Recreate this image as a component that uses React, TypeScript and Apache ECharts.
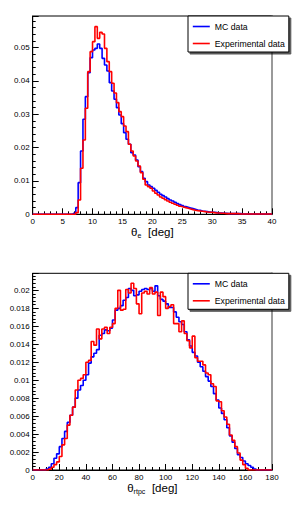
import React, { useEffect, useRef } from "react";
import * as echarts from "echarts";

// ---- top histogram: theta_e, 100 bins of 0.4 deg over [0, 40] ----
const thetaEBinWidth = 0.4;
const thetaEMC = [
  0, 0, 0, 0, 0, 0, 0, 0, 0, 0, 0, 0, 0, 0, 0, 0, 0,
  0.0003, 0.002, 0.0095, 0.019, 0.0285, 0.0353, 0.0425, 0.047, 0.0493, 0.0498,
  0.0511, 0.0498, 0.0468, 0.0448, 0.043, 0.0395, 0.037, 0.0345, 0.032, 0.0298,
  0.0272, 0.0245, 0.0225, 0.021, 0.0185, 0.0178, 0.0163, 0.0143, 0.0128, 0.0108,
  0.0098, 0.0088, 0.0083, 0.0078, 0.0072, 0.0066, 0.006, 0.0056, 0.0052, 0.0047,
  0.0043, 0.004, 0.0036, 0.0032, 0.0029, 0.0026, 0.0023, 0.0021, 0.0019, 0.0017,
  0.0015, 0.0013, 0.0012, 0.001, 0.0009, 0.0008, 0.0007, 0.0006, 0.0006, 0.0005,
  0.0004, 0.0004, 0.0003, 0.0003,
  0.0002, 0.0002, 0.0002, 0.0002, 0.0002, 0.0002,
  0.0001, 0.0001, 0.0001, 0.0001, 0.0001, 0.0001, 0.0001, 0.0001, 0.0001, 0.0001,
  0.0001, 0.0001, 0.0001,
];
const thetaEExp = [
  0, 0, 0, 0, 0, 0, 0, 0, 0, 0, 0, 0, 0, 0, 0, 0, 0, 0,
  0.0005, 0.0043, 0.0138, 0.0223, 0.0318, 0.0428, 0.0488, 0.0518, 0.0563, 0.0528,
  0.0546, 0.0541, 0.0498, 0.0458, 0.0428, 0.0393, 0.0364, 0.0335, 0.0308, 0.0293,
  0.0265, 0.0248, 0.021, 0.019, 0.0175, 0.016, 0.0145, 0.0125, 0.0105, 0.0088,
  0.0083, 0.0078, 0.007, 0.0063, 0.0058, 0.0052, 0.0048, 0.0044, 0.004, 0.0036,
  0.0033, 0.003, 0.0027, 0.0024, 0.0022, 0.002, 0.0018, 0.0016, 0.0014, 0.0012,
  0.0011, 0.001, 0.0009, 0.0008, 0.0007, 0.0006, 0.0006, 0.0005, 0.0004, 0.0004,
  0.0003, 0.0003,
  0.0002, 0.0002, 0.0002, 0.0002, 0.0002, 0.0002,
  0.0001, 0.0001, 0.0001, 0.0001, 0.0001, 0.0001, 0.0001, 0.0001, 0.0001, 0.0001,
  0.0001, 0.0001, 0.0001, 0.0001,
];

// ---- bottom histogram: theta_rtpc, 90 bins of 2 deg over [0, 180] ----
const thetaRBinWidth = 2;
const thetaRMC = [
  0, 0, 0, 0, 0,
  0.0001, 0.0003, 0.0007, 0.0013, 0.0018, 0.0026, 0.0035, 0.0043, 0.0053, 0.0061,
  0.007, 0.008, 0.0089, 0.0094, 0.01, 0.0106, 0.0119, 0.0126, 0.013, 0.0134,
  0.015, 0.0152, 0.0156, 0.0155, 0.0158, 0.0167, 0.0178, 0.018, 0.0183, 0.0189,
  0.0192, 0.0202, 0.02, 0.0194, 0.0195, 0.0199, 0.0201, 0.0202, 0.0201, 0.0202,
  0.0199, 0.0205, 0.0194, 0.019, 0.0188, 0.0185, 0.0181, 0.0181, 0.0176, 0.017,
  0.0165, 0.0162, 0.0154, 0.0145, 0.0138, 0.0131, 0.0127, 0.012, 0.0115, 0.011,
  0.0104, 0.0099, 0.0093, 0.0085, 0.0078, 0.0069, 0.0063, 0.0056, 0.0047, 0.0038,
  0.0031, 0.0024, 0.0017, 0.0014, 0.001, 0.0007, 0.0005, 0.0003, 0.0001,
  0, 0, 0, 0, 0, 0,
];
const thetaRExp = [
  0, 0, 0, 0, 0, 0,
  0.0001, 0.0003, 0.0006, 0.0009, 0.0015, 0.0028, 0.0035, 0.005, 0.0061,
  0.007, 0.0089, 0.01, 0.0102, 0.0106, 0.012, 0.0122, 0.0143, 0.0139, 0.0157,
  0.0146, 0.0157, 0.0159, 0.0152, 0.0159, 0.0163, 0.018, 0.02, 0.0178, 0.0179,
  0.0201, 0.0197, 0.0208, 0.0202, 0.0185, 0.0174, 0.0197, 0.0199, 0.0196, 0.0203,
  0.0196, 0.0198, 0.0172, 0.0198, 0.0193, 0.018, 0.0182, 0.0184, 0.0163, 0.0163,
  0.0154, 0.0166, 0.0152, 0.0144, 0.0136, 0.0149, 0.0125, 0.0121, 0.0121, 0.0117,
  0.0108, 0.0106, 0.0096, 0.0093, 0.0077, 0.0076, 0.0066, 0.0059, 0.0051, 0.0039,
  0.0033, 0.0026, 0.0019, 0.0011, 0.0006, 0.0002,
  0, 0, 0, 0, 0, 0, 0, 0, 0,
];

const seriesNames = ["MC data", "Experimental data"];
const FONT = "'Liberation Sans', Arial, Helvetica, sans-serif";

function toSteps(vals: number[], w: number): number[][] {
  const pts = vals.map((v, i) => [+(i * w).toFixed(4), v]);
  pts.push([+(vals.length * w).toFixed(4), vals[vals.length - 1]]);
  return pts;
}

function xAxisCfg(gridIndex: number, max: number, interval: number, minorSplit: number, sub: string) {
  return {
    gridIndex,
    type: "value",
    min: 0,
    max,
    interval,
    name: `{t|θ}{s|${sub}}  {t|[deg]}`,
    nameLocation: "middle",
    nameGap: 9,
    nameTextStyle: {
      rich: {
        t: { fontSize: 11.5, fontFamily: FONT, color: "#000" },
        s: { fontSize: 7, fontFamily: FONT, color: "#000", padding: [7, 0, 0, 0] },
      },
    },
    axisLine: { lineStyle: { color: "#000", width: 1 } },
    axisTick: { inside: true, length: 6, lineStyle: { color: "#000" } },
    minorTick: { show: true, splitNumber: minorSplit, length: 3, lineStyle: { color: "#000" } },
    axisLabel: { fontSize: 8, fontFamily: FONT, color: "#000", margin: 3 },
    splitLine: { show: false },
  };
}

function yAxisCfg(gridIndex: number, max: number, interval: number) {
  return {
    gridIndex,
    type: "value",
    min: 0,
    max,
    interval,
    axisLine: { show: true, lineStyle: { color: "#000", width: 1 } },
    axisTick: { inside: true, length: 6, lineStyle: { color: "#000" } },
    minorTick: { show: true, splitNumber: 5, length: 3, lineStyle: { color: "#000" } },
    axisLabel: { fontSize: 8, fontFamily: FONT, color: "#000", margin: 3, showMaxLabel: false },
    splitLine: { show: false },
  };
}

function rightAxisCfg(gridIndex: number, max: number) {
  return {
    gridIndex,
    type: "value",
    position: "right",
    min: 0,
    max,
    axisLine: { show: true, lineStyle: { color: "#9a9a9a", width: 2 } },
    axisTick: { show: false },
    axisLabel: { show: false },
    splitLine: { show: false },
  };
}

function legendCfg(top: number) {
  return {
    left: 188,
    top,
    orient: "vertical",
    data: seriesNames,
    backgroundColor: "#fff",
    borderColor: "#000",
    borderWidth: 1,
    padding: [6, 4, 4, 4],
    itemGap: 8,
    itemWidth: 17,
    itemHeight: 9,
    itemStyle: { opacity: 0 },
    lineStyle: { width: 1.6, opacity: 1 },
    textStyle: { fontSize: 8.7, fontFamily: FONT, color: "#000" },
    shadowColor: "rgba(0,0,0,0.65)",
    shadowOffsetX: 2,
    shadowOffsetY: 2,
    shadowBlur: 0,
    selectedMode: false,
  };
}

function stepSeries(name: string, color: string, data: number[][], xi: number, yi: number, z: number) {
  return {
    name,
    type: "line",
    step: "end",
    xAxisIndex: xi,
    yAxisIndex: yi,
    data,
    symbol: "none",
    showSymbol: false,
    z,
    lineStyle: { color, width: 1.6 },
    itemStyle: { color },
  };
}

export default function App() {
  const ref = useRef<HTMLDivElement>(null);
  useEffect(() => {
    if (!ref.current) return;
    const chart = echarts.init(ref.current, undefined, { renderer: "svg" });
    chart.setOption({
      animation: false,
      backgroundColor: "#fff",
      grid: [
        { left: 32.7, top: 16, width: 239.3, height: 198.3, show: true, borderColor: "#000", borderWidth: 1, backgroundColor: "transparent" },
        { left: 32.7, top: 273.3, width: 239.3, height: 196.7, show: true, borderColor: "#000", borderWidth: 1, backgroundColor: "transparent" },
      ],
      xAxis: [
        xAxisCfg(0, 40, 5, 5, "e"),
        xAxisCfg(1, 180, 20, 4, "rtpc"),
      ],
      yAxis: [
        yAxisCfg(0, 0.0595, 0.01),
        rightAxisCfg(0, 0.0595),
        yAxisCfg(1, 0.0219, 0.002),
        rightAxisCfg(1, 0.0219),
      ],
      legend: [legendCfg(16), legendCfg(273.3)],
      series: [
        stepSeries(seriesNames[0], "#0000ff", toSteps(thetaEMC, thetaEBinWidth), 0, 0, 2),
        stepSeries(seriesNames[1], "#ff0000", toSteps(thetaEExp, thetaEBinWidth), 0, 0, 3),
        stepSeries(seriesNames[0], "#0000ff", toSteps(thetaRMC, thetaRBinWidth), 1, 2, 2),
        stepSeries(seriesNames[1], "#ff0000", toSteps(thetaRExp, thetaRBinWidth), 1, 2, 3),
      ],
    });
    return () => chart.dispose();
  }, []);
  return (
    <div
      ref={ref}
      style={{ position: "absolute", left: 0, top: 0, width: 305, height: 512 }}
    />
  );
}
